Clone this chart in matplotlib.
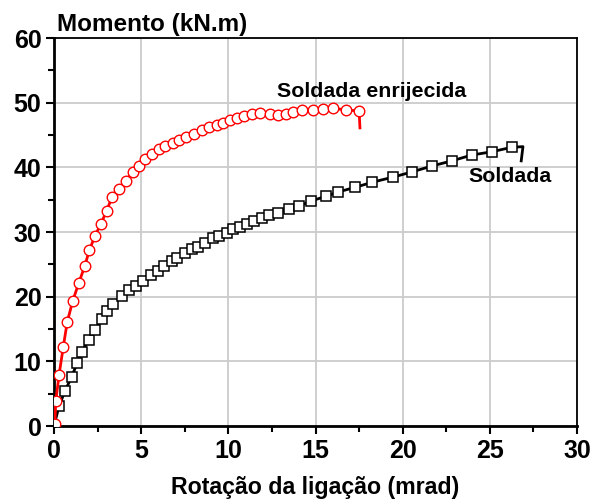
import matplotlib
matplotlib.use("Agg")
import matplotlib.pyplot as plt

plt.rcParams['font.family'] = ['Liberation Sans', 'DejaVu Sans']

# Soldada enrijecida (red circles)
red_x = [0.05, 0.10, 0.29, 0.53, 0.76, 1.07, 1.42, 1.76, 2.03, 2.35, 2.70, 3.02, 3.33,
         3.73, 4.13, 4.51, 4.86, 5.24, 5.60, 6.00, 6.39, 6.85, 7.19, 7.60, 8.03, 8.47,
         8.91, 9.33, 9.71, 10.10, 10.48, 10.90, 11.34, 11.82, 12.40, 12.87, 13.30, 13.73,
         14.20, 14.88, 15.45, 16.00, 16.75, 17.50, 17.55]
red_y = [0.3, 3.8, 7.9, 12.2, 16.1, 19.3, 22.1, 24.7, 27.2, 29.4, 31.3, 33.3, 35.4,
         36.7, 37.9, 39.3, 40.2, 41.3, 42.0, 42.9, 43.3, 43.7, 44.2, 44.7, 45.2, 45.7,
         46.2, 46.5, 46.9, 47.3, 47.7, 48.0, 48.2, 48.4, 48.2, 48.1, 48.3, 48.5,
         48.8, 48.9, 49.0, 49.1, 48.9, 48.7, 46.1]

# Soldada (black squares)
blk_x = [0.0, 0.29, 0.63, 1.01, 1.34, 1.59, 1.99, 2.35, 2.75, 3.04, 3.40, 3.88, 4.32,
         4.70, 5.09, 5.55, 5.95, 6.31, 6.75, 7.07, 7.53, 7.90, 8.24, 8.66, 9.14, 9.48,
         9.91, 10.29, 10.67, 11.06, 11.49, 11.92, 12.32, 12.87, 13.50, 14.07, 14.74,
         15.59, 16.31, 17.27, 18.26, 19.47, 20.54, 21.67, 22.82, 23.96, 25.10, 26.26,
         26.90, 26.80]
blk_y = [0.0, 3.1, 5.4, 7.6, 9.8, 11.5, 13.3, 14.9, 16.5, 17.8, 18.9, 20.1, 21.0,
         21.7, 22.5, 23.3, 24.0, 24.7, 25.5, 26.0, 26.7, 27.3, 27.7, 28.3, 29.0, 29.4,
         29.9, 30.4, 30.7, 31.2, 31.7, 32.1, 32.6, 33.0, 33.5, 34.0, 34.8,
         35.5, 36.2, 36.9, 37.7, 38.5, 39.3, 40.2, 41.0, 41.9, 42.4, 43.1,
         43.2, 41.0]

x_ticks = [0, 5, 10, 15, 20, 25, 30]
y_ticks = [0, 10, 20, 30, 40, 50, 60]

fig = plt.figure(figsize=(5.92, 4.99), dpi=100)
ax = fig.add_axes([54/592, 1-426/499, (577-54)/592, (426-38)/499])

ax.plot(blk_x, blk_y, color='black', lw=2, marker='s', ms=6.8, mfc='white',
        mec='black', mew=1.1, markevery=list(range(1, len(blk_x)-2)), zorder=3)
ax.plot(red_x, red_y, color='red', lw=2, marker='o', ms=7.6, mfc='white',
        mec='red', mew=1.0, markevery=list(range(0, len(red_x)-1)), zorder=4)

ax.set_xlim(0, 30)
ax.set_ylim(0, 60)
ax.set_xticks(x_ticks)
ax.set_yticks(y_ticks)
ax.set_xticks([2.5, 7.5, 12.5, 17.5, 22.5, 27.5], minor=True)
ax.set_yticks([5, 15, 25, 35, 45, 55], minor=True)
ax.grid(True, which='major', color='#cccccc', lw=1.3, zorder=0)
ax.set_axisbelow(True)

ax.tick_params(which='major', direction='out', length=6, width=1.5, labelsize=18, pad=3)
ax.tick_params(which='minor', direction='out', length=4, width=1.5)
ax.tick_params(top=False, right=False)
for lbl in ax.get_xticklabels() + ax.get_yticklabels():
    lbl.set_fontweight('bold')

ax.spines['left'].set_linewidth(2)
ax.spines['bottom'].set_linewidth(2)
ax.spines['top'].set_linewidth(1.3)
ax.spines['right'].set_linewidth(1.3)

ax.set_xlabel('Rotação da ligação (mrad)', fontsize=16.7, fontweight='bold', labelpad=10)
fig.text(57/592, 1-24/499, 'Momento (kN.m)', fontsize=17.5, fontweight='bold',
         ha='left', va='center')

ax.text(18.24, 51.7, 'Soldada enrijecida', fontsize=15.4, fontweight='bold',
        ha='center', va='center')
ax.text(23.8, 38.6, 'Soldada', fontsize=15.4, fontweight='bold',
        ha='left', va='center')

fig.savefig('out.png', dpi=100)
